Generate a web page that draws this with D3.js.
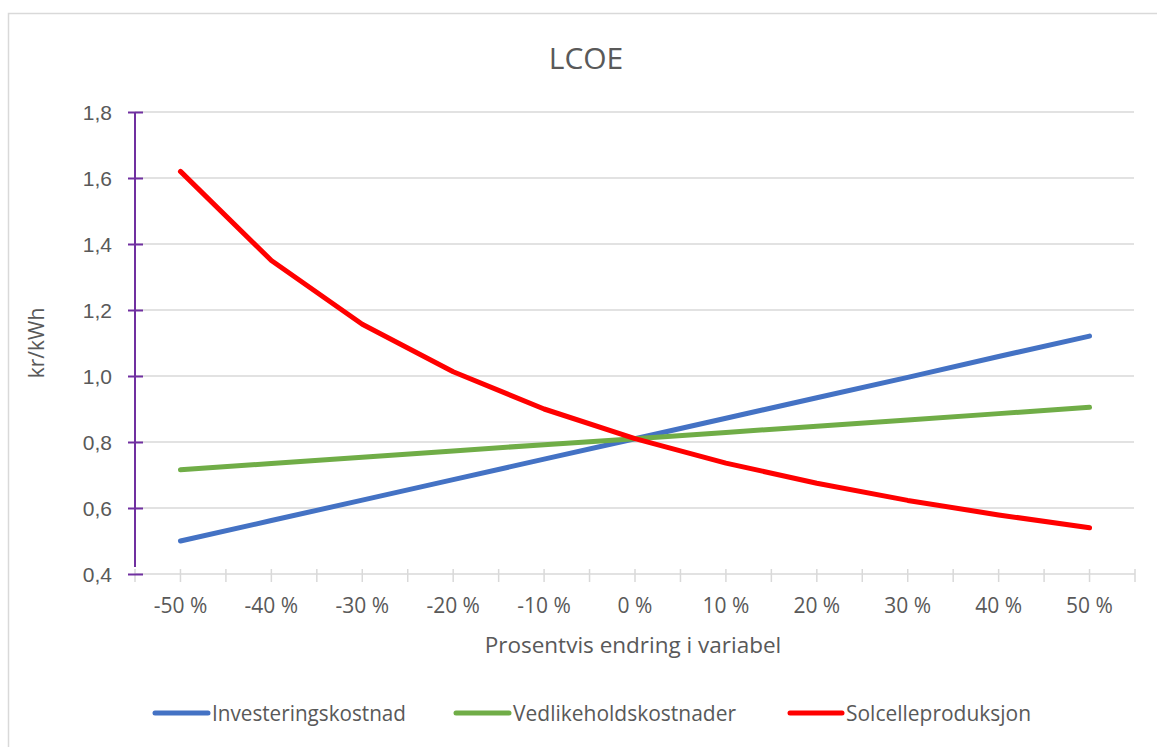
<!DOCTYPE html>
<html>
<head>
<meta charset="utf-8">
<script src="https://cdn.jsdelivr.net/npm/d3@7"></script>
<style>
  html, body { margin: 0; padding: 0; background: #fff; }
  svg { display: block; font-family: "Open Sans", "Noto Sans", sans-serif; }
</style>
</head>
<body>
<svg id="chart" width="1157" height="747"></svg>
<script>
// Sensitivity of LCOE (kr/kWh) to a change in each input variable
const categories = ["-50 %", "-40 %", "-30 %", "-20 %", "-10 %", "0 %", "10 %", "20 %", "30 %", "40 %", "50 %"];
const investeringskostnad = [0.500, 0.562, 0.624, 0.686, 0.748, 0.810, 0.872, 0.934, 0.996, 1.059, 1.121];
const vedlikeholdskostnader = [0.716, 0.735, 0.754, 0.773, 0.792, 0.810, 0.829, 0.848, 0.867, 0.886, 0.905];
const solcelleproduksjon = [1.620, 1.350, 1.157, 1.013, 0.900, 0.810, 0.736, 0.675, 0.623, 0.579, 0.540];
const yTicks = [0.4, 0.6, 0.8, 1.0, 1.2, 1.4, 1.6, 1.8];
const yTickLabels = ["0,4", "0,6", "0,8", "1,0", "1,2", "1,4", "1,6", "1,8"];

const series = [
  { name: "Investeringskostnad", values: investeringskostnad, color: "#4472C4" },
  { name: "Vedlikeholdskostnader", values: vedlikeholdskostnader, color: "#70AD47" },
  { name: "Solcelleproduksjon", values: solcelleproduksjon, color: "#FF0000" }
];

const svg = d3.select("#chart");
const textColor = "#595959";
const gridColor = "#d9d9d9";

const plot = { left: 135, right: 1135, top: 112, bottom: 574 };

// Chart frame
svg.append("rect")
  .attr("x", 8.5).attr("y", 13.5)
  .attr("width", 1160).attr("height", 760)
  .attr("fill", "none").attr("stroke", gridColor).attr("stroke-width", 1.5);

const x = d3.scaleBand().domain(categories).range([plot.left, plot.right]).padding(0);
const y = d3.scaleLinear().domain([0.4, 1.8]).range([plot.bottom, plot.top]);

// Horizontal gridlines
svg.append("g").selectAll("line")
  .data(yTicks.filter(v => v > 0.4))
  .join("line")
  .attr("x1", plot.left).attr("x2", plot.right - 1)
  .attr("y1", d => y(d)).attr("y2", d => y(d))
  .attr("stroke", gridColor).attr("stroke-width", 1.5);

// X axis: line with tick marks at category edges and centres
const xAxis = svg.append("g").attr("transform", `translate(0,${plot.bottom})`)
  .call(d3.axisBottom(x).tickSize(0).tickPadding(0));
xAxis.select(".domain").remove();
xAxis.selectAll(".tick text").remove();
xAxis.append("line")
  .attr("x1", plot.left).attr("x2", plot.right)
  .attr("stroke", gridColor).attr("stroke-width", 1.5);
const halfTicks = [];
categories.forEach(c => { halfTicks.push(x(c)); halfTicks.push(x(c) + x.bandwidth() / 2); });
halfTicks.push(plot.right);
xAxis.selectAll("line.half").data(halfTicks).join("line").attr("class", "half")
  .attr("x1", d => d).attr("x2", d => d)
  .attr("y1", -5).attr("y2", 8)
  .attr("stroke", gridColor).attr("stroke-width", 1.5);

svg.append("g").selectAll("text")
  .data(categories).join("text")
  .attr("x", d => x(d) + x.bandwidth() / 2)
  .attr("y", 613)
  .attr("text-anchor", "middle")
  .attr("font-size", 21)
  .attr("fill", textColor)
  .text(d => d);

// Y axis (purple) with ticks crossing the line
const yAxis = svg.append("g").attr("transform", `translate(${plot.left},0)`)
  .call(d3.axisLeft(y).tickValues(yTicks).tickFormat((d, i) => yTickLabels[i]).tickSizeInner(0).tickSizeOuter(0));
yAxis.select(".domain").remove();
yAxis.selectAll(".tick text").remove();
yAxis.append("line")
  .attr("x1", 0).attr("x2", 0)
  .attr("y1", plot.top).attr("y2", plot.bottom - 7)
  .attr("stroke", "#7030A0").attr("stroke-width", 2);
yAxis.selectAll(".tick").append("line")
  .attr("x1", -7).attr("x2", 8)
  .attr("stroke", "#7030A0").attr("stroke-width", 2);
yAxis.selectAll(".tick").append("text")
  .attr("x", -23).attr("dy", "0.35em")
  .attr("text-anchor", "end")
  .attr("font-size", 21)
  .attr("fill", textColor)
  .text((d, i) => yTickLabels[i]);

// Series lines
const line = d3.line()
  .x((d, i) => x(categories[i]) + x.bandwidth() / 2)
  .y(d => y(d));

svg.append("g").selectAll("path")
  .data(series).join("path")
  .attr("d", s => line(s.values))
  .attr("fill", "none")
  .attr("stroke", s => s.color)
  .attr("stroke-width", 5)
  .attr("stroke-linejoin", "round")
  .attr("stroke-linecap", "round");

// Title and axis titles
svg.append("text")
  .attr("x", 586).attr("y", 69)
  .attr("text-anchor", "middle")
  .attr("font-size", 30)
  .attr("fill", textColor)
  .text("LCOE");

svg.append("text")
  .attr("x", 633).attr("y", 653)
  .attr("text-anchor", "middle")
  .attr("font-size", 22.5)
  .attr("fill", textColor)
  .text("Prosentvis endring i variabel");

svg.append("text")
  .attr("transform", "translate(44,343) rotate(-90)")
  .attr("text-anchor", "middle")
  .attr("font-size", 21)
  .attr("fill", textColor)
  .text("kr/kWh");

// Legend
const legendItems = [
  { x0: 155, x1: 208, tx: 212, tw: 194 },
  { x0: 456, x1: 509, tx: 513, tw: 223 },
  { x0: 790, x1: 842, tx: 846, tw: 185 }
];
const legend = svg.append("g").selectAll("g")
  .data(series).join("g");
legend.append("line")
  .attr("x1", (d, i) => legendItems[i].x0).attr("x2", (d, i) => legendItems[i].x1)
  .attr("y1", 713).attr("y2", 713)
  .attr("stroke", d => d.color).attr("stroke-width", 5)
  .attr("stroke-linecap", "round");
legend.append("text")
  .attr("x", (d, i) => legendItems[i].tx)
  .attr("y", 721)
  .attr("font-size", 21)
  .attr("textLength", (d, i) => legendItems[i].tw)
  .attr("lengthAdjust", "spacingAndGlyphs")
  .attr("fill", textColor)
  .text(d => d.name);
</script>
</body>
</html>
